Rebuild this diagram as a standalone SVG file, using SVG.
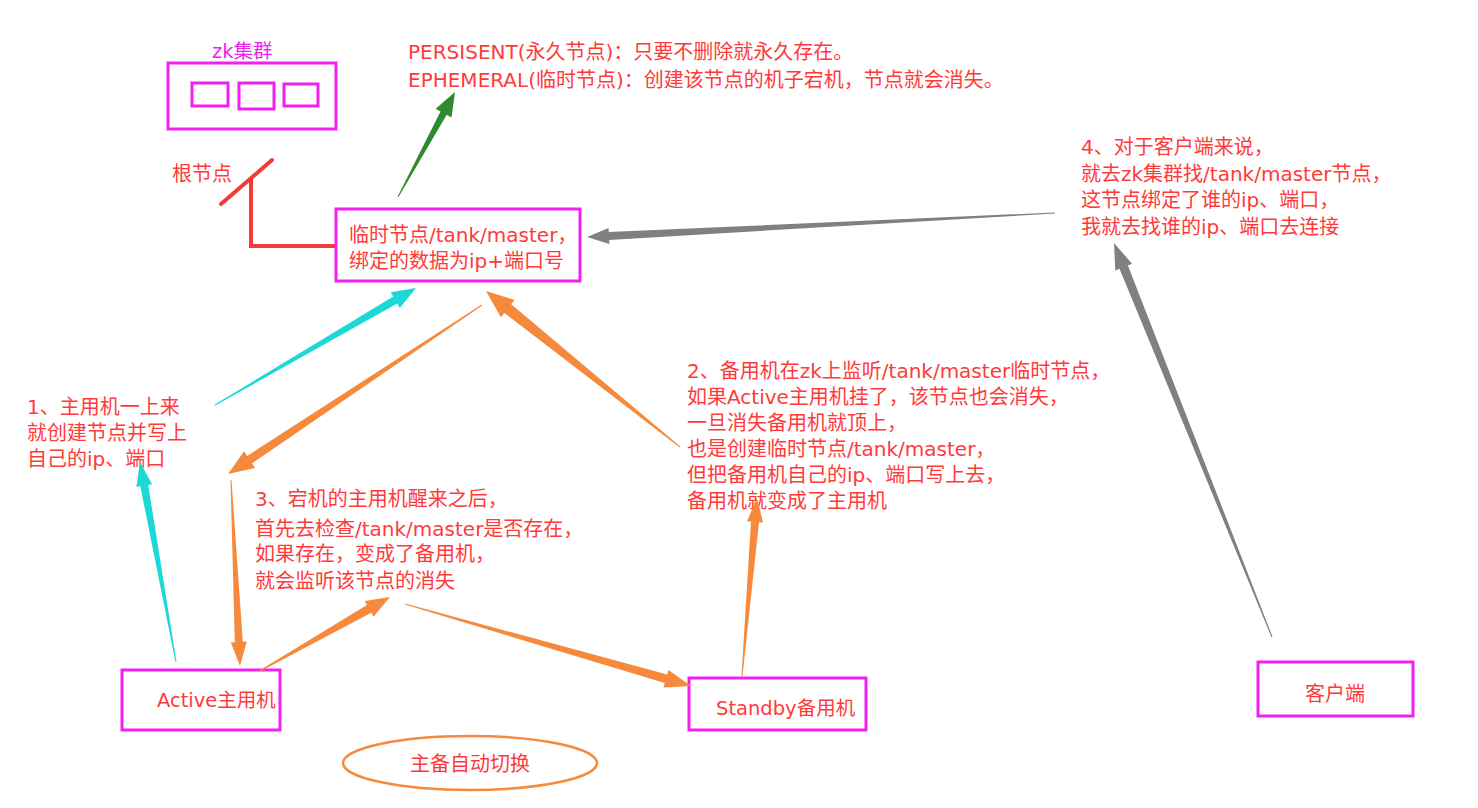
<svg xmlns="http://www.w3.org/2000/svg" width="1478" height="808" viewBox="0 0 1478 808">
<style>
.t{font-family:"DejaVu Sans","Noto Sans CJK SC",sans-serif;font-size:20px;fill:#ff3a3a}
.s{font-size:19.5px}
.m{fill:#fff;stroke:#f020f0;stroke-width:3}
.o{fill:#f58a3c}
.c{fill:#1ed8d8}
.g{fill:#808080}
.gr{fill:#2f8a2f}
.r{fill:none;stroke:#f53a3a;stroke-width:4;stroke-linecap:round}
</style>
<rect width="1478" height="808" fill="#fff"/>
<g id="zk-cluster">
<text class="t s" x="212" y="58" style="fill:#ee22ee">zk集群</text>
<rect class="m" x="168" y="63" width="168" height="66"/>
<rect class="m" x="192" y="83" width="36" height="23"/>
<rect class="m" x="239" y="83" width="35" height="26"/>
<rect class="m" x="284" y="84" width="34" height="22"/>
</g>
<g id="root-node">
<text class="t" x="172" y="181">根节点</text>
<line class="r" x1="221" y1="204" x2="272" y2="160"/>
<polyline class="r" points="251,178 251,246 335,246" style="stroke-linecap:butt"/>
</g>
<g id="node-types">
<text class="t" x="408" y="59">PERSISENT(永久节点)：只要不删除就永久存在。</text>
<text class="t" x="408" y="87">EPHEMERAL(临时节点)：创建该节点的机子宕机，节点就会消失。</text>
</g>
<g id="master-node">
<rect class="m" x="336" y="209" width="244" height="72"/>
<text class="t" x="349" y="242">临时节点/tank/master，</text>
<text class="t" x="349" y="268">绑定的数据为ip+端口号</text>
</g>
<g id="note1">
<text class="t" x="27" y="414">1、主用机一上来</text>
<text class="t" x="27" y="440">就创建节点并写上</text>
<text class="t" x="27" y="466">自己的ip、端口</text>
</g>
<g id="note2">
<text class="t" x="687" y="378">2、备用机在zk上监听/tank/master临时节点，</text>
<text class="t" x="687" y="404">如果Active主用机挂了，该节点也会消失，</text>
<text class="t" x="687" y="430">一旦消失备用机就顶上，</text>
<text class="t" x="687" y="456">也是创建临时节点/tank/master，</text>
<text class="t" x="687" y="482">但把备用机自己的ip、端口写上去，</text>
<text class="t" x="687" y="508">备用机就变成了主用机</text>
</g>
<g id="note3">
<text class="t" x="255" y="506">3、宕机的主用机醒来之后，</text>
<text class="t" x="255" y="536">首先去检查/tank/master是否存在，</text>
<text class="t" x="255" y="561">如果存在，变成了备用机，</text>
<text class="t" x="255" y="588">就会监听该节点的消失</text>
</g>
<g id="note4">
<text class="t" x="1081" y="154">4、对于客户端来说，</text>
<text class="t" x="1081" y="181">就去zk集群找/tank/master节点，</text>
<text class="t" x="1081" y="207">这节点绑定了谁的ip、端口，</text>
<text class="t" x="1081" y="234">我就去找谁的ip、端口去连接</text>
</g>
<g id="active">
<rect class="m" x="122" y="670" width="158" height="60"/>
<text class="t s" x="157" y="707">Active主用机</text>
</g>
<g id="standby">
<rect class="m" x="689" y="678" width="177" height="52"/>
<text class="t s" x="716" y="715">Standby备用机</text>
</g>
<g id="client">
<rect class="m" x="1258" y="662" width="155" height="54"/>
<text class="t" x="1305" y="701">客户端</text>
</g>
<g id="switch">
<ellipse cx="470" cy="763" rx="127" ry="27" fill="none" stroke="#f58a3c" stroke-width="2.5"/>
<text class="t" x="410" y="771">主备自动切换</text>
</g>
<g id="connectors">
<polygon class="gr" points="398.4,197.2 446.7,114.8 451.5,117.4 455,92 435.7,108.8 440.5,111.4 397.6,196.8"/>
<polygon class="c" points="215.3,405.4 397.3,303.6 399.8,307.9 416,288 390.8,292.3 393.3,296.6 214.7,404.6"/>
<polygon class="c" points="176.5,661.9 148.2,484.9 152.1,484.2 140,462 136.4,487 140.3,486.3 175.5,662.1"/>
<polygon class="o" points="481.7,304.6 247.1,455.9 244.1,451.3 228,474 255.1,467.9 252.1,463.3 482.3,305.4"/>
<polygon class="o" points="230.5,480 234.8,642.2 230.8,642.4 240,666 246.8,641.6 242.8,641.8 231.5,480"/>
<polygon class="o" points="258.2,672.4 371.3,612.8 373.5,616.7 390,597 364.7,601.1 366.9,605 257.8,671.6"/>
<polygon class="o" points="404.9,604.5 664.8,683.1 663.5,687.5 691,686 668.5,670.1 667.2,674.5 405.1,603.5"/>
<polygon class="o" points="742.5,676 759,522.2 763,522.6 757,498 747,521.2 751,521.6 741.5,676"/>
<polygon class="o" points="680.3,446.6 511.2,304.3 514.7,300 486,291 500.9,317.2 504.4,312.9 679.7,447.4"/>
<polygon class="g" points="1055,212.5 608.8,231.9 608.6,227.9 587,237 609.4,243.9 609.2,239.9 1055,213.5"/>
<polygon class="g" points="1272.5,636.8 1127.9,265.4 1132.1,263.8 1114,243 1115.3,270.4 1119.5,268.8 1271.5,637.2"/>
</g>
</svg>
